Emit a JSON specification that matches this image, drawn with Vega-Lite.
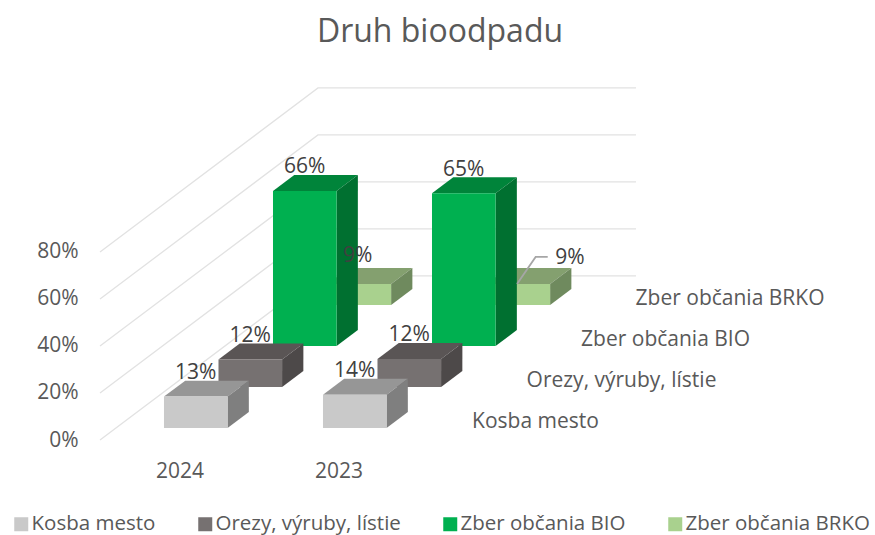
{"$schema":"https://vega.github.io/schema/vega-lite/v6.json","width":680,"height":380,"autosize":{"type":"none"},"padding":{"left":100,"top":60,"right":95,"bottom":95},"background":"white","title":{"text":"Druh bioodpadu","font":"Open Sans","fontSize":32,"fontWeight":"normal","color":"#595959","anchor":"middle","frame":"group","offset":11},"config":{"view":{"stroke":null},"text":{"font":"Open Sans"}},"layer":[{"data":{"values":[{"tick":0},{"tick":0.2},{"tick":0.4},{"tick":0.6},{"tick":0.8}]},"transform":[{"calculate":"[0,1,2]","as":"p"},{"flatten":["p"]},{"calculate":"[0,1.371,3.371][datum.p]","as":"gx"},{"calculate":"datum.tick+[0,0.698,0.698][datum.p]","as":"gy"}],"mark":{"type":"line","color":"#E2E2E2","strokeWidth":1.3},"encoding":{"x":{"field":"gx","type":"quantitative","scale":{"domain":[0,4.27673],"nice":false,"zero":false},"axis":{"title":null,"values":[0.5,1.5],"labelExpr":"datum.value==0.5?'2024':'2023'","domain":false,"ticks":false,"grid":false,"labelPadding":20,"labelFont":"Open Sans","labelFontSize":21,"labelColor":"#595959"}},"y":{"field":"gy","type":"quantitative","scale":{"domain":[0,1.61702],"nice":false,"zero":false},"axis":{"title":null,"values":[0,0.2,0.4,0.6,0.8],"format":".0%","domain":false,"ticks":false,"grid":false,"labelPadding":22,"labelFont":"Open Sans","labelFontSize":21,"labelColor":"#595959"}},"detail":{"field":"tick"}}},{"data":{"values":[{"year":"2024","series":"Kosba mesto","value":0.134},{"year":"2024","series":"Orezy, výruby, lístie","value":0.117},{"year":"2024","series":"Zber občania BIO","value":0.66},{"year":"2024","series":"Zber občania BRKO","value":0.09},{"year":"2023","series":"Kosba mesto","value":0.142},{"year":"2023","series":"Orezy, výruby, lístie","value":0.12},{"year":"2023","series":"Zber občania BIO","value":0.65},{"year":"2023","series":"Zber občania BRKO","value":0.09}]},"transform":[{"calculate":"indexof(['2024','2023'],datum.year)","as":"c"},{"calculate":"indexof(['Kosba mesto','Orezy, výruby, lístie','Zber občania BIO','Zber občania BRKO'],datum.series)","as":"d"},{"calculate":"[0.29,0.68]","as":"t"},{"flatten":["t"]},{"calculate":"datum.c+0.303+(datum.d+datum.t)*0.3428","as":"xa"},{"calculate":"datum.xa+0.4","as":"xb"},{"calculate":"(datum.d+datum.t)*0.1745","as":"yb"},{"calculate":"datum.yb+datum.value","as":"yt"},{"calculate":"datum.xa+0.2+(datum.d==3?(datum.c==1?0.325:-0.01):0)","as":"lx"},{"calculate":"datum.yt+(datum.d==3?(datum.c==1?0.11:0.12):0.1)","as":"ly"},{"calculate":"2.34+datum.d*0.3428","as":"nx"},{"calculate":"0.077+datum.d*0.1745","as":"ny"}],"layer":[{"transform":[{"filter":"datum.d==3"}],"mark":{"type":"area","color":"#84A06F"},"encoding":{"y":{"field":"yt","type":"quantitative"},"x":{"field":"xa","type":"quantitative","stack":null},"x2":{"field":"xb"},"detail":{"field":"year"}}},{"transform":[{"filter":"datum.d==3"}],"mark":{"type":"area","color":"#6F8A5E"},"encoding":{"x":{"field":"xb","type":"quantitative"},"y":{"field":"yb","type":"quantitative","stack":null},"y2":{"field":"yt"},"detail":{"field":"year"}}},{"transform":[{"filter":"datum.d==3&&datum.t==0.29"}],"mark":{"type":"rect"},"encoding":{"x":{"field":"xa","type":"quantitative"},"x2":{"field":"xb"},"y":{"field":"yb","type":"quantitative"},"y2":{"field":"yt"},"color":{"field":"series","type":"nominal","scale":{"domain":["Kosba mesto","Orezy, výruby, lístie","Zber občania BIO","Zber občania BRKO"],"range":["#C9C9C9","#767171","#00B050","#A9D18E"]},"legend":{"title":null,"orient":"none","direction":"horizontal","columns":4,"gridAlign":"none","columnPadding":39,"legendX":-89,"legendY":454,"symbolType":"square","symbolSize":196,"symbolStrokeWidth":0,"labelFont":"Open Sans","labelFontSize":20.5,"labelColor":"#595959","labelOffset":0,"labelLimit":300}}}},{"transform":[{"filter":"datum.d==2"}],"mark":{"type":"area","color":"#00843A"},"encoding":{"y":{"field":"yt","type":"quantitative"},"x":{"field":"xa","type":"quantitative","stack":null},"x2":{"field":"xb"},"detail":{"field":"year"}}},{"transform":[{"filter":"datum.d==2"}],"mark":{"type":"area","color":"#007030"},"encoding":{"x":{"field":"xb","type":"quantitative"},"y":{"field":"yb","type":"quantitative","stack":null},"y2":{"field":"yt"},"detail":{"field":"year"}}},{"transform":[{"filter":"datum.d==2&&datum.t==0.29"}],"mark":{"type":"rect"},"encoding":{"x":{"field":"xa","type":"quantitative"},"x2":{"field":"xb"},"y":{"field":"yb","type":"quantitative"},"y2":{"field":"yt"},"color":{"field":"series","type":"nominal"}}},{"transform":[{"filter":"datum.d==1"}],"mark":{"type":"area","color":"#5A5555"},"encoding":{"y":{"field":"yt","type":"quantitative"},"x":{"field":"xa","type":"quantitative","stack":null},"x2":{"field":"xb"},"detail":{"field":"year"}}},{"transform":[{"filter":"datum.d==1"}],"mark":{"type":"area","color":"#4D4949"},"encoding":{"x":{"field":"xb","type":"quantitative"},"y":{"field":"yb","type":"quantitative","stack":null},"y2":{"field":"yt"},"detail":{"field":"year"}}},{"transform":[{"filter":"datum.d==1&&datum.t==0.29"}],"mark":{"type":"rect"},"encoding":{"x":{"field":"xa","type":"quantitative"},"x2":{"field":"xb"},"y":{"field":"yb","type":"quantitative"},"y2":{"field":"yt"},"color":{"field":"series","type":"nominal"}}},{"transform":[{"filter":"datum.d==0"}],"mark":{"type":"area","color":"#969696"},"encoding":{"y":{"field":"yt","type":"quantitative"},"x":{"field":"xa","type":"quantitative","stack":null},"x2":{"field":"xb"},"detail":{"field":"year"}}},{"transform":[{"filter":"datum.d==0"}],"mark":{"type":"area","color":"#7F7F7F"},"encoding":{"x":{"field":"xb","type":"quantitative"},"y":{"field":"yb","type":"quantitative","stack":null},"y2":{"field":"yt"},"detail":{"field":"year"}}},{"transform":[{"filter":"datum.d==0&&datum.t==0.29"}],"mark":{"type":"rect"},"encoding":{"x":{"field":"xa","type":"quantitative"},"x2":{"field":"xb"},"y":{"field":"yb","type":"quantitative"},"y2":{"field":"yt"},"color":{"field":"series","type":"nominal"}}},{"transform":[{"filter":"datum.d==3&&datum.c==1&&datum.t==0.29"},{"calculate":"[0,1,2]","as":"p"},{"flatten":["p"]},{"calculate":"datum.xa+0.2+[-0.008,0.109,0.185][datum.p]","as":"ex"},{"calculate":"datum.yt+[0,0.115,0.115][datum.p]","as":"ey"}],"mark":{"type":"line","color":"#A6A6A6","strokeWidth":1.8},"encoding":{"x":{"field":"ex","type":"quantitative"},"y":{"field":"ey","type":"quantitative"}}},{"transform":[{"filter":"datum.t==0.29"}],"mark":{"type":"text","fontSize":21,"color":"#404040","baseline":"middle","align":"center"},"encoding":{"x":{"field":"lx","type":"quantitative"},"y":{"field":"ly","type":"quantitative"},"text":{"field":"value","type":"quantitative","format":".0%"}}},{"transform":[{"filter":"datum.t==0.29&&datum.c==0"}],"mark":{"type":"text","fontSize":21,"color":"#595959","baseline":"middle","align":"left"},"encoding":{"x":{"field":"nx","type":"quantitative"},"y":{"field":"ny","type":"quantitative"},"text":{"field":"series","type":"nominal"}}}]}]}
